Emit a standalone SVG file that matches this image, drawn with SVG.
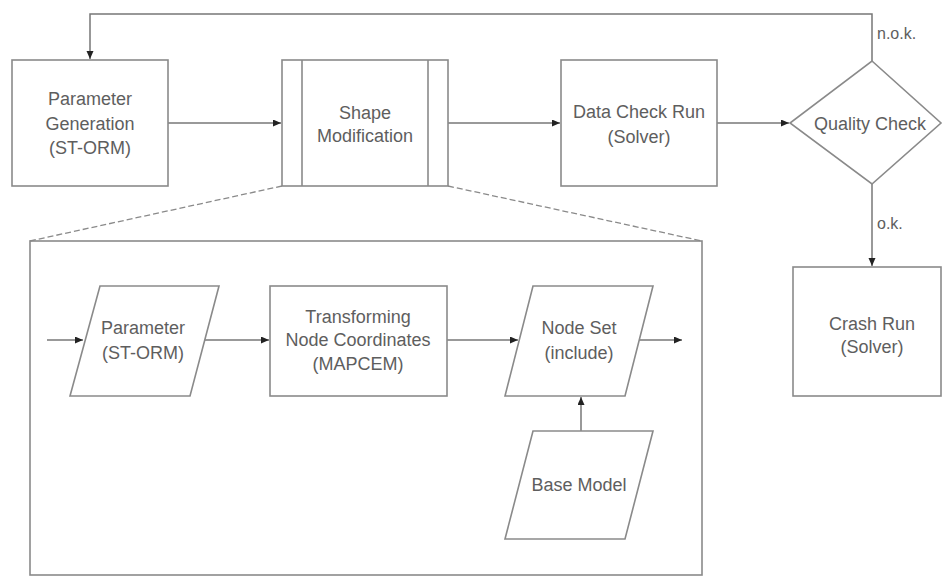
<svg xmlns="http://www.w3.org/2000/svg" width="943" height="576" viewBox="0 0 943 576">
  <style>
    .shape { fill: #ffffff; stroke: #8a8a8a; stroke-width: 1.6; }
    .thin { fill: none; stroke: #8a8a8a; stroke-width: 1.6; }
    .conn { fill: none; stroke: #777777; stroke-width: 1.5; }
    .dash { fill: none; stroke: #8a8a8a; stroke-width: 1.3; stroke-dasharray: 6 3; }
    .lbl { font-family: "Liberation Sans", Arial, sans-serif; font-size: 18px; fill: #5e5e5e; text-anchor: middle; }
    .edge { font-family: "Liberation Sans", Arial, sans-serif; font-size: 16px; fill: #5e5e5e; }
  </style>
  <defs>
    <marker id="arrow" markerWidth="9" markerHeight="8" refX="8" refY="3.5" orient="auto" markerUnits="userSpaceOnUse">
      <path d="M0,0 L8,3.5 L0,7 z" fill="#222222"/>
    </marker>
  </defs>
  <rect width="943" height="576" fill="#ffffff"/>

  <!-- detail frame for the subprocess -->
  <g id="detail-frame">
    <rect class="thin" x="30" y="241" width="672" height="334"/>
    <path class="dash" d="M282,186 L30,241"/>
    <path class="dash" d="M448,186 L702,241"/>
  </g>

  <!-- connectors -->
  <g id="connectors">
    <path class="conn" d="M872,61 V14 H90 V59" marker-end="url(#arrow)"/>
    <path class="conn" d="M168,123 H281" marker-end="url(#arrow)"/>
    <path class="conn" d="M448,123 H560" marker-end="url(#arrow)"/>
    <path class="conn" d="M717,123 H789" marker-end="url(#arrow)"/>
    <path class="conn" d="M872,184 V266" marker-end="url(#arrow)"/>
    <path class="conn" d="M47,340 H83" marker-end="url(#arrow)"/>
    <path class="conn" d="M205,340 H269" marker-end="url(#arrow)"/>
    <path class="conn" d="M447,340 H518" marker-end="url(#arrow)"/>
    <path class="conn" d="M639,340 H682" marker-end="url(#arrow)"/>
    <path class="conn" d="M581,431 V397" marker-end="url(#arrow)"/>
    <text class="edge" x="877" y="39">n.o.k.</text>
    <text class="edge" x="877" y="229">o.k.</text>
  </g>

  <g id="parameter-generation">
    <rect class="shape" x="12" y="60" width="156" height="126"/>
    <text class="lbl" x="90" y="105">Parameter</text>
    <text class="lbl" x="90" y="130">Generation</text>
    <text class="lbl" x="90" y="154">(ST-ORM)</text>
  </g>

  <g id="shape-modification">
    <rect class="shape" x="282" y="60" width="166" height="126"/>
    <path class="thin" d="M302,60 V186 M428,60 V186"/>
    <text class="lbl" x="365" y="119">Shape</text>
    <text class="lbl" x="365" y="142">Modification</text>
  </g>

  <g id="data-check-run">
    <rect class="shape" x="561" y="60" width="156" height="126"/>
    <text class="lbl" x="639" y="118">Data Check Run</text>
    <text class="lbl" x="639" y="143">(Solver)</text>
  </g>

  <g id="quality-check">
    <polygon class="shape" points="872,61 941,123 872,184 790,123"/>
    <text class="lbl" x="870" y="130">Quality Check</text>
  </g>

  <g id="crash-run">
    <rect class="shape" x="793" y="267" width="148" height="129"/>
    <text class="lbl" x="872" y="330">Crash Run</text>
    <text class="lbl" x="872" y="353">(Solver)</text>
  </g>

  <g id="parameter-input">
    <polygon class="shape" points="100,286 219,286 190,396 70,396"/>
    <text class="lbl" x="143" y="334">Parameter</text>
    <text class="lbl" x="143" y="359">(ST-ORM)</text>
  </g>

  <g id="transforming-node-coordinates">
    <rect class="shape" x="270" y="286" width="177" height="110"/>
    <text class="lbl" x="358" y="323">Transforming</text>
    <text class="lbl" x="358" y="346">Node Coordinates</text>
    <text class="lbl" x="358" y="370">(MAPCEM)</text>
  </g>

  <g id="node-set">
    <polygon class="shape" points="533,286 653,286 625,396 505,396"/>
    <text class="lbl" x="579" y="334">Node Set</text>
    <text class="lbl" x="579" y="359">(include)</text>
  </g>

  <g id="base-model">
    <polygon class="shape" points="533,431 653,431 625,539 505,539"/>
    <text class="lbl" x="579" y="491">Base Model</text>
  </g>
</svg>
